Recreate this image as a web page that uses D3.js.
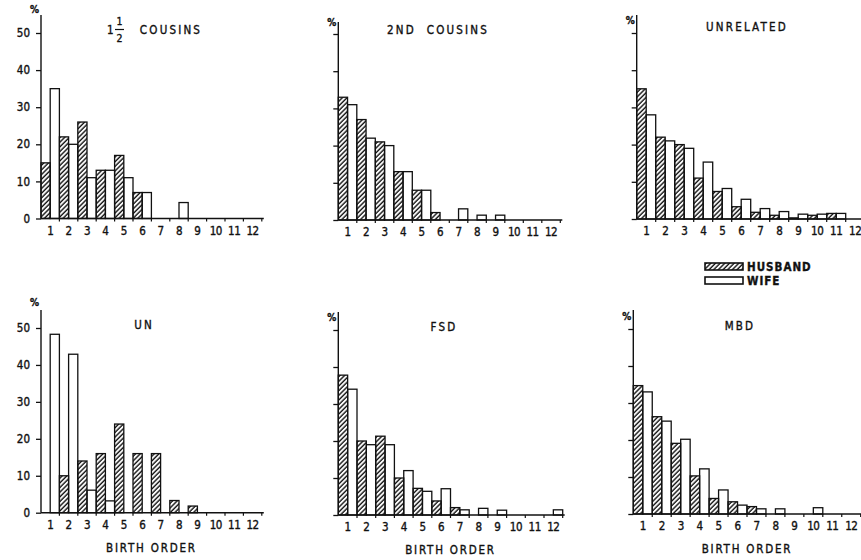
<!DOCTYPE html>
<html>
<head>
<meta charset="utf-8">
<script src="https://cdn.jsdelivr.net/npm/d3@7"></script>
<style>
  body { margin: 0; background: #fff; }
  svg text { font-family: "DejaVu Sans Condensed", "DejaVu Sans", sans-serif; fill: #111; stroke: #111; stroke-width: 0.35px; }
</style>
</head>
<body>
<div id="chart"></div>
<script>
// birth order categories and value ticks
var birthOrder = ["1", "2", "3", "4", "5", "6", "7", "8", "9", "10", "11", "12"];
var percentTicks = [0, 10, 20, 30, 40, 50];

// percentages, husband / wife per birth order
var cousins15Husband = [15, 22, 26, 13, 17, 7, 0, 0, 0, 0, 0, 0];
var cousins15Wife    = [35, 20, 11, 13, 11, 7, 0, 4.3, 0, 0, 0, 0];
var cousins2Husband  = [33, 27, 21, 13, 8, 2, 0, 0, 0, 0, 0, 0];
var cousins2Wife     = [31, 22, 20, 13, 8, 0, 3, 1.3, 1.3, 0, 0, 0];
var unrelatedHusband = [35, 22, 20, 11, 7.4, 3.3, 1.8, 1, 0.3, 1, 1.5, 0];
var unrelatedWife    = [28, 21, 19, 15.3, 8.2, 5.3, 2.8, 2, 1.3, 1.3, 1.5, 0];
var unHusband        = [0, 10, 14, 16, 24, 16, 16, 3.3, 1.8, 0, 0, 0];
var unWife           = [48.3, 42.9, 6.1, 3.2, 0, 0, 0, 0, 0, 0, 0, 0];
var fsdHusband       = [37.8, 20, 21.3, 10, 7.2, 3.8, 2, 0, 0, 0, 0, 0];
var fsdWife          = [34, 19, 19, 12, 6.4, 7.1, 1.4, 1.8, 1.3, 0, 0, 1.4];
var mbdHusband       = [34.7, 26.3, 19.1, 10.3, 4.2, 3.3, 2, 0, 0, 0, 0, 0];
var mbdWife          = [33, 25.1, 20.2, 12.2, 6.5, 2.4, 1.4, 1.4, 0, 1.7, 0, 0];

var titles = ["COUSINS", "2ND  COUSINS", "UNRELATED", "UN", "FSD", "MBD"];
var legendLabels = ["HUSBAND", "WIFE"];
var xTitle = "BIRTH ORDER";

var width = 861, height = 560;

var svg = d3.select("#chart").append("svg")
    .attr("width", width)
    .attr("height", height);

// diagonal hatch for husband bars
svg.append("defs").append("pattern")
    .attr("id", "hatch")
    .attr("patternUnits", "userSpaceOnUse")
    .attr("width", 3.3)
    .attr("height", 3.3)
    .attr("patternTransform", "rotate(45)")
  .append("line")
    .attr("x1", 1).attr("y1", 0)
    .attr("x2", 1).attr("y2", 3.3)
    .attr("stroke", "#111")
    .attr("stroke-width", 1.4);

// panel frames: axis origin, zero line, group width
var panels = [
    { husband: cousins15Husband, wife: cousins15Wife, title: titles[0], x0: 41,    y0: 218.5, top: 33,  gw: 18.4, labels: true,  axisTop: 15,  pctY: 13 },
    { husband: cousins2Husband,  wife: cousins2Wife,  title: titles[1], x0: 338.3, y0: 220,   top: 34,  gw: 18.5, labels: false, axisTop: 22,  pctY: 26 },
    { husband: unrelatedHusband, wife: unrelatedWife, title: titles[2], x0: 636.7, y0: 219,   top: 33,  gw: 19,   labels: false, axisTop: 15,  pctY: 24 },
    { husband: unHusband,        wife: unWife,        title: titles[3], x0: 41,    y0: 512.7, top: 328, gw: 18.4, labels: true,  axisTop: 310, pctY: 306 },
    { husband: fsdHusband,       wife: fsdWife,       title: titles[4], x0: 338.3, y0: 515,   top: 330, gw: 18.7, labels: false, axisTop: 312, pctY: 321 },
    { husband: mbdHusband,       wife: mbdWife,       title: titles[5], x0: 633.3, y0: 514,   top: 329, gw: 18.95, labels: false, axisTop: 310, pctY: 320 }
];

var titlePos = [[171, 34], [438, 34], [747, 31], [144, 329], [444, 331], [740, 330]];

panels.forEach(function (p, k) {
    var x = d3.scaleBand()
        .domain(birthOrder)
        .range([p.x0, p.x0 + p.gw * birthOrder.length])
        .padding(0);
    var y = d3.scaleLinear()
        .domain([0, 50])
        .range([p.y0, p.top]);

    var g = svg.append("g");
    var bw = x.bandwidth() / 2;

    var rows = birthOrder.map(function (b, i) {
        return { b: b, h: p.husband[i], w: p.wife[i] };
    });

    // wife bars (open)
    g.selectAll("rect.wife")
        .data(rows)
        .enter()
        .append("rect")
        .attr("class", "wife")
        .attr("x", function (d) { return x(d.b) + bw; })
        .attr("y", function (d) { return y(d.w); })
        .attr("width", bw)
        .attr("height", function (d) { return y(0) - y(d.w); })
        .attr("fill", "#fff")
        .attr("stroke", "#111")
        .attr("stroke-width", 1.3);

    // husband bars (hatched)
    g.selectAll("rect.husband")
        .data(rows)
        .enter()
        .append("rect")
        .attr("class", "husband")
        .attr("x", function (d) { return x(d.b); })
        .attr("y", function (d) { return y(d.h); })
        .attr("width", bw)
        .attr("height", function (d) { return y(0) - y(d.h); })
        .attr("fill", "url(#hatch)")
        .attr("stroke", "#111")
        .attr("stroke-width", 1.3);

    // y axis
    var yAxis = d3.axisLeft(y)
        .tickValues(percentTicks)
        .tickSize(5)
        .tickPadding(6)
        .tickFormat(p.labels ? d3.format("d") : "");
    var ya = g.append("g")
        .attr("transform", "translate(" + p.x0 + ",0)")
        .call(yAxis);
    ya.select(".domain").remove();
    ya.selectAll("line").attr("stroke", "#111").attr("stroke-width", 1.3);
    ya.selectAll("text").attr("font-size", 11.5).style("font-family", "DejaVu Sans Condensed, DejaVu Sans");
    g.append("line")
        .attr("x1", p.x0).attr("x2", p.x0)
        .attr("y1", p.axisTop).attr("y2", p.y0)
        .attr("stroke", "#111").attr("stroke-width", 1.4);

    // x axis: ticks at group edges, labels at centres
    var xEnd = p.x0 + p.gw * birthOrder.length + 2;
    g.append("line")
        .attr("x1", p.x0).attr("x2", xEnd)
        .attr("y1", p.y0).attr("y2", p.y0)
        .attr("stroke", "#111").attr("stroke-width", 1.4);
    g.selectAll("line.xtick")
        .data(birthOrder)
        .enter()
        .append("line")
        .attr("class", "xtick")
        .attr("x1", function (d) { return x(d) + x.bandwidth(); })
        .attr("x2", function (d) { return x(d) + x.bandwidth(); })
        .attr("y1", p.y0).attr("y2", p.y0 + 3)
        .attr("stroke", "#111").attr("stroke-width", 1.2);
    g.selectAll("text.xlab")
        .data(birthOrder)
        .enter()
        .append("text")
        .attr("class", "xlab")
        .attr("x", function (d) { return x(d) + x.bandwidth() / 2; })
        .attr("y", p.y0 + 16)
        .attr("text-anchor", "middle")
        .attr("font-size", 11.5)
        .attr("letter-spacing", -0.5)
        .text(function (d) { return d; });

    // % sign
    g.append("text")
        .attr("x", p.x0 - 2)
        .attr("y", p.pctY)
        .attr("text-anchor", "end")
        .attr("font-size", 10)
        .attr("font-weight", "bold")
        .text("%");

    // title
    g.append("text")
        .attr("x", titlePos[k][0])
        .attr("y", titlePos[k][1])
        .attr("text-anchor", "middle")
        .attr("font-size", 11.5)
        .attr("letter-spacing", 2.2)
        .attr("xml:space", "preserve")
        .text(p.title);

    if (k >= 3) {
        g.append("text")
            .attr("x", p.x0 + p.gw * 6)
            .attr("y", p.y0 + 39)
            .attr("text-anchor", "middle")
            .attr("font-size", 11.5)
            .attr("letter-spacing", 1.8)
            .text(xTitle);
    }
});

// the "1 1/2" in front of COUSINS
var frac = svg.append("g");
frac.append("text").attr("x", 107).attr("y", 34).attr("font-size", 11.5).text("1");
frac.append("text").attr("x", 119.5).attr("y", 25).attr("text-anchor", "middle").attr("font-size", 10.5).text("1");
frac.append("line").attr("x1", 115).attr("x2", 124).attr("y1", 29.5).attr("y2", 29.5)
    .attr("stroke", "#111").attr("stroke-width", 1.2);
frac.append("text").attr("x", 119.5).attr("y", 42).attr("text-anchor", "middle").attr("font-size", 10.5).text("2");

// legend
var legend = svg.append("g").attr("transform", "translate(705,263)");
legend.selectAll("rect")
    .data(legendLabels)
    .enter()
    .append("rect")
    .attr("x", 0)
    .attr("y", function (d, i) { return i * 14; })
    .attr("width", 38)
    .attr("height", 7)
    .attr("fill", function (d, i) { return i === 0 ? "url(#hatch)" : "#fff"; })
    .attr("stroke", "#111")
    .attr("stroke-width", 1.6);
legend.selectAll("text")
    .data(legendLabels)
    .enter()
    .append("text")
    .attr("x", 42)
    .attr("y", function (d, i) { return i * 14 + 8; })
    .attr("font-size", 11.5)
    .attr("font-weight", "bold")
    .attr("letter-spacing", 1)
    .text(function (d) { return d; });
</script>
</body>
</html>
